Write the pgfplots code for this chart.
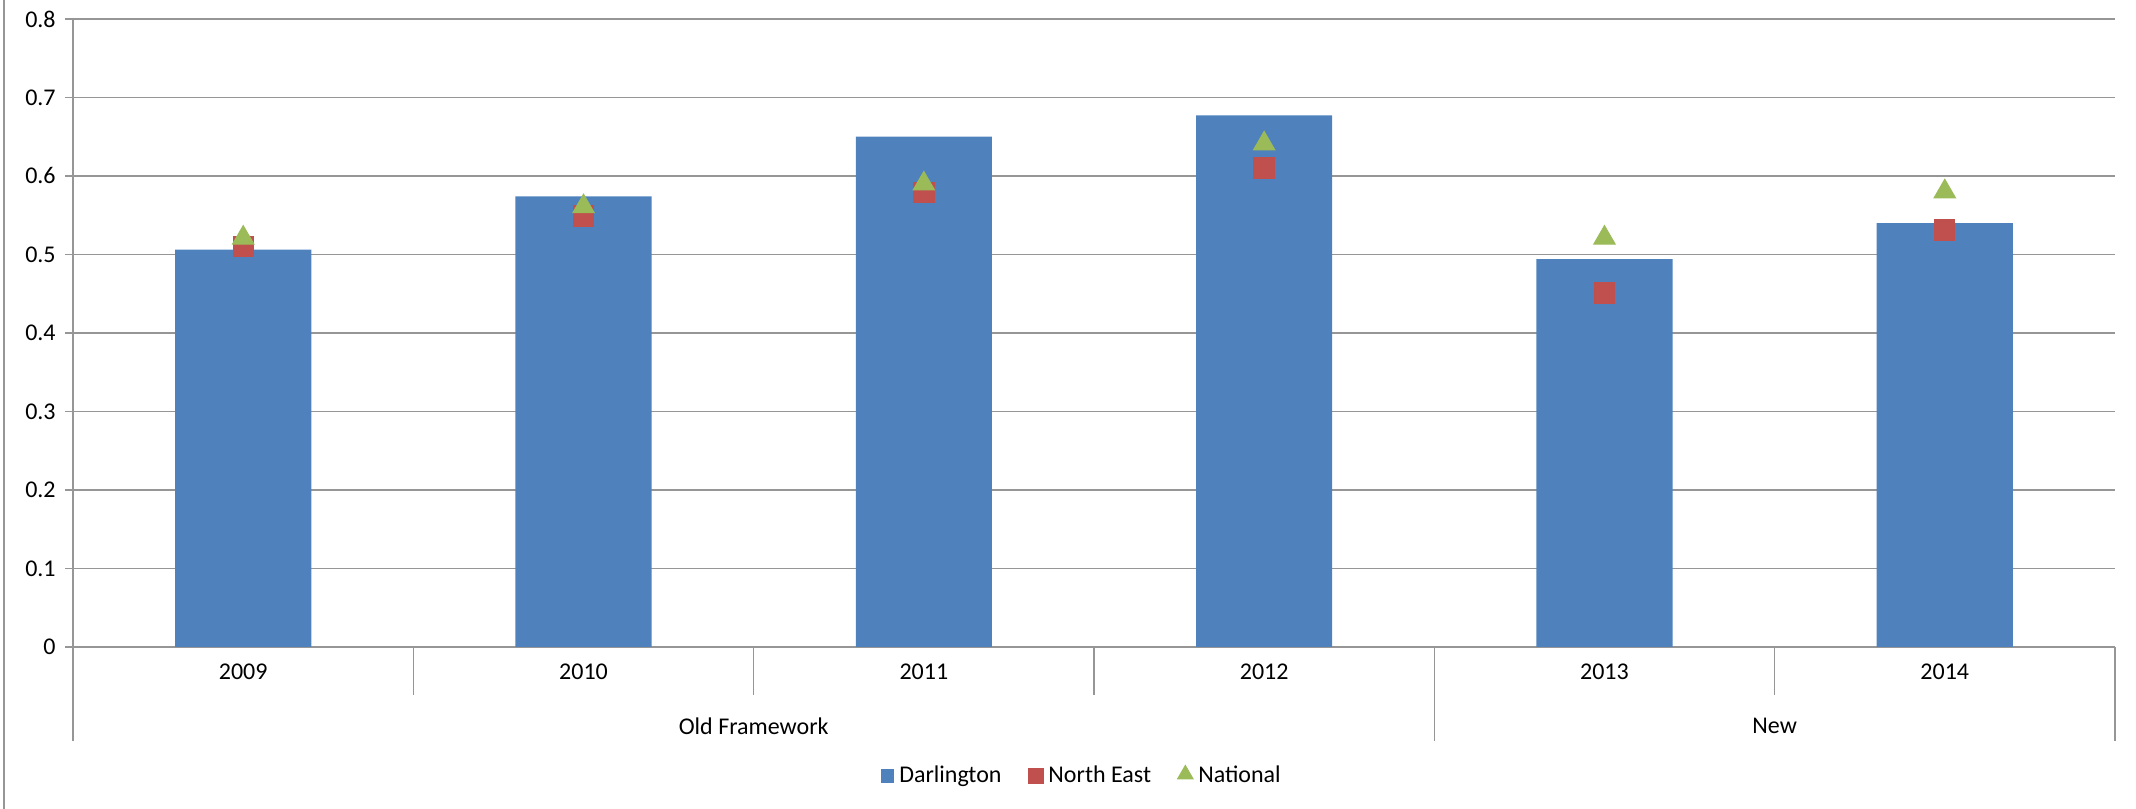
\documentclass[border=0pt]{standalone}
\usepackage{pgfplots}
\pgfplotsset{compat=1.18}
\usepackage{fontspec}
\setmainfont{Carlito}

\definecolor{darlblue}{RGB}{79,129,189}
\definecolor{nered}{RGB}{192,80,77}
\definecolor{natgreen}{RGB}{155,187,89}
\definecolor{gridgray}{RGB}{150,150,150}

\begin{document}
\begin{tikzpicture}[font=\fontsize{9}{11}\selectfont]
\useasboundingbox (-27.4pt,-60.75pt) rectangle (773.65pt,242.6pt);
\begin{axis}[
    at={(0,0)}, anchor=south west,
    scale only axis, width=765.75pt, height=235.5pt,
    xmin=-0.5, xmax=5.5, ymin=0, ymax=0.8,
    axis x line*=bottom, axis y line*=left,
    axis line style={draw=gridgray, line width=0.5pt, -},
    ytick={0,0.1,0.2,0.3,0.4,0.5,0.6,0.7,0.8},
    ymajorgrids=true,
    grid style={gridgray, line width=0.5pt},
    y tick style={gridgray, line width=0.5pt},
    x tick style={draw=none},
    tick align=outside, major tick length=3pt,
    xtick={0,1,2,3,4,5},
    xticklabels={2009,2010,2011,2012,2013,2014},
    xticklabel style={anchor=center, yshift=-6.3pt},
    /pgf/number format/assume math mode=true,
    legend columns=3,
    legend style={draw=none, fill=none, at={(0.5,0)}, anchor=center,
        yshift=-48.4pt, xshift=-4pt,
        /tikz/every even column/.append style={column sep=8pt}},
    clip=false,
]

\addplot[ybar, bar width=0.4, fill=darlblue, draw=none,
    legend image code/.code={\fill[darlblue] (0pt,-2.5pt) rectangle (5pt,2.5pt);}]
    coordinates {
    (0,0.506)(1,0.574)(2,0.650)(3,0.677)(4,0.494)(5,0.540)
    };

\addplot[only marks, mark=square*, mark size=3.8pt, color=nered,
    legend image code/.code={\draw[mark size=2.8pt] plot coordinates {(3pt,0pt)};}]
    coordinates {
    (0,0.510)(1,0.549)(2,0.579)(3,0.610)(4,0.451)(5,0.531)
    };

\addplot[only marks, mark=triangle*, mark size=4.6pt, color=natgreen,
    legend image code/.code={\draw[mark size=3.3pt] plot coordinates {(3pt,0.6pt)};}]
    coordinates {
    (0,0.521)(1,0.561)(2,0.590)(3,0.641)(4,0.521)(5,0.580)
    };

\legend{Darlington, North East, National}

% category separators below the axis
\pgfplotsinvokeforeach{0.5,1.5,2.5,4.5}{
    \draw[gridgray, line width=0.5pt] (axis cs:#1,0) -- ([yshift=-18pt]axis cs:#1,0);
}
\pgfplotsinvokeforeach{-0.5,3.5,5.5}{
    \draw[gridgray, line width=0.5pt] (axis cs:#1,0) -- ([yshift=-35.4pt]axis cs:#1,0);
}

\node at ([yshift=-29.6pt]axis cs:1.5,0) {Old Framework};
\node at ([yshift=-29.6pt]axis cs:4.5,0) {New};
\end{axis}

% chart area border
\draw[gridgray, line width=0.8pt] (-25.9pt,-60.75pt) -- (-25.9pt,242.6pt);
\end{tikzpicture}
\end{document}
